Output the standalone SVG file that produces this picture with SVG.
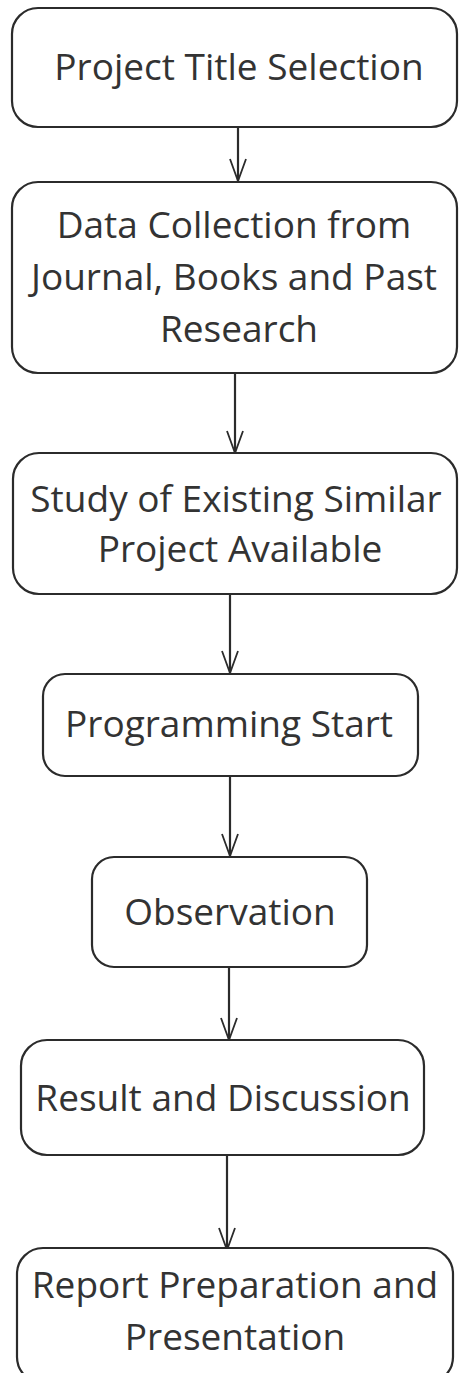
<svg xmlns="http://www.w3.org/2000/svg" width="459" height="1373" viewBox="0 0 459 1373">
<style>
.box{fill:#fff;stroke:#2b2b2b;stroke-width:2.2}
.t{font-family:"Open Sans","Noto Sans",sans-serif;font-size:37px;fill:#333;text-anchor:middle}
.c{stroke:#2b2b2b;stroke-width:2.2;fill:none}
</style>
<defs>
<marker id="v" viewBox="0 0 24 20" refX="23" refY="10" markerWidth="24" markerHeight="20" markerUnits="userSpaceOnUse" orient="auto">
<path d="M1 2 L23 10 L1 18" fill="none" stroke="#2b2b2b" stroke-width="1.8"/>
</marker>
</defs>
<rect width="459" height="1373" fill="#fff"/>
<g id="connectors">
<line class="c" x1="238" y1="128" x2="238" y2="181" marker-end="url(#v)"/>
<line class="c" x1="235" y1="374" x2="235" y2="453" marker-end="url(#v)"/>
<line class="c" x1="230" y1="595" x2="230" y2="673" marker-end="url(#v)"/>
<line class="c" x1="230" y1="777" x2="230" y2="856" marker-end="url(#v)"/>
<line class="c" x1="229" y1="968" x2="229" y2="1040" marker-end="url(#v)"/>
<line class="c" x1="227" y1="1156" x2="227" y2="1250" marker-end="url(#v)"/>
</g>
<g id="n1">
<rect class="box" x="12" y="8" width="445" height="119" rx="26"/>
<text class="t" x="239" y="80">Project Title Selection</text>
</g>
<g id="n2">
<rect class="box" x="12" y="182" width="445" height="191" rx="26"/>
<text class="t" x="234" y="238">Data Collection from</text>
<text class="t" x="234" y="290">Journal, Books and Past</text>
<text class="t" x="239" y="342">Research</text>
</g>
<g id="n3">
<rect class="box" x="13" y="453" width="444" height="141" rx="26"/>
<text class="t" x="236" y="512">Study of Existing Similar</text>
<text class="t" x="240" y="562">Project Available</text>
</g>
<g id="n4">
<rect class="box" x="43" y="674" width="375" height="102" rx="22"/>
<text class="t" x="229" y="737">Programming Start</text>
</g>
<g id="n5">
<rect class="box" x="92" y="857" width="275" height="110" rx="22"/>
<text class="t" x="230" y="925">Observation</text>
</g>
<g id="n6">
<rect class="box" x="21" y="1040" width="403" height="115" rx="26"/>
<text class="t" x="223" y="1111">Result and Discussion</text>
</g>
<g id="n7">
<rect class="box" x="17" y="1248" width="436" height="135" rx="26"/>
<text class="t" x="235" y="1298">Report Preparation and</text>
<text class="t" x="235" y="1350">Presentation</text>
</g>
</svg>
